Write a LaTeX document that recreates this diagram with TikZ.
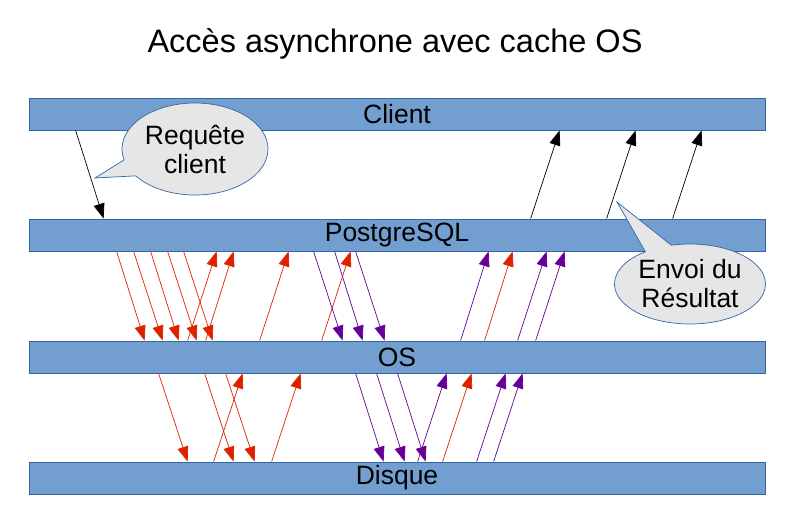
\documentclass[tikz,border=0pt]{standalone}
\usepackage{fontspec}
\setmainfont{Liberation Sans}
\usetikzlibrary{calc,arrows.meta,shapes.callouts}
\definecolor{barfill}{RGB}{114,159,207}
\definecolor{barline}{RGB}{52,101,164}
\definecolor{bubble}{RGB}{230,230,230}
\definecolor{redarr}{RGB}{221,34,0}
\definecolor{purparr}{RGB}{102,0,153}
\tikzset{
  bar/.style={draw=barline, line width=0.8pt, fill=barfill, minimum width=736pt, minimum height=32pt, inner sep=0pt, font=\fontsize{26.5}{30}\selectfont},
  bubblebox/.style={ellipse callout, draw=barline, line width=0.7pt, fill=bubble, inner sep=0pt, align=center, callout pointer arc=22, font=\fontsize{26.5}{29}\selectfont},
  conn/.style={line width=0.7pt, -{Triangle[length=15pt,width=11pt]}},
  blackarr/.style={conn, black},
  redarrow/.style={conn, redarr},
  purparrow/.style={conn, purparr}
}
\begin{document}
\begin{tikzpicture}[x=1pt,y=-1pt]
\useasboundingbox (0,0) rectangle (794,525);
\node[font=\fontsize{32.5}{36}\selectfont] (title) at (395,44) {Accès asynchrone avec cache OS};
\node[bar] (client) at (397,114) {Client};
\node[bar] (pg) at (397,235) {PostgreSQL};
\node[bar] (os) at (397,357) {OS};
\node[bar] (disk) at (397,478) {Disque};
% client -> pg
\draw[blackarr] ($(client.south west)+(76-29,0)$) -- ($(pg.north west)+(104-29,0)$);
\foreach \a/\b in {531/560,607/636,673/702}
  \draw[blackarr] ($(pg.north west)+(\a-29,0)$) -- ($(client.south west)+(\b-29,0)$);
% pg <-> os
\foreach \a/\b in {117/145,134/163,151/179,168/197,184/213}
  \draw[redarrow] ($(pg.south west)+(\a-29,0)$) -- ($(os.north west)+(\b-29,0)$);
\foreach \a/\b in {188/217,206/234,260/289,322/351,485/513}
  \draw[redarrow] ($(os.north west)+(\a-29,0)$) -- ($(pg.south west)+(\b-29,0)$);
\foreach \a/\b in {314/343,335/363,356/385}
  \draw[purparrow] ($(pg.south west)+(\a-29,0)$) -- ($(os.north west)+(\b-29,0)$);
\foreach \a/\b in {461/489,518/547,536/565}
  \draw[purparrow] ($(os.north west)+(\a-29,0)$) -- ($(pg.south west)+(\b-29,0)$);
% os <-> disk
\foreach \a/\b in {159/188,205/234,226/255}
  \draw[redarrow] ($(os.south west)+(\a-29,0)$) -- ($(disk.north west)+(\b-29,0)$);
\foreach \a/\b in {214/243,272/301,443/472}
  \draw[redarrow] ($(disk.north west)+(\a-29,0)$) -- ($(os.south west)+(\b-29,0)$);
\foreach \a/\b in {356/384,377/405,398/426}
  \draw[purparrow] ($(os.south west)+(\a-29,0)$) -- ($(disk.north west)+(\b-29,0)$);
\foreach \a/\b in {418/447,477/506,494/523}
  \draw[purparrow] ($(disk.north west)+(\a-29,0)$) -- ($(os.south west)+(\b-29,0)$);
% callouts
\coordinate (tipA) at (95,178);
\coordinate (tipB) at (617,202);
\node[bubblebox, minimum width=146pt, minimum height=92pt, callout absolute pointer={(tipA)}] (req) at (195,149) {Requête\\client};
\node[bubblebox, minimum width=151pt, minimum height=80pt, callout absolute pointer={(tipB)}] (res) at (690,284) {Envoi du\\Résultat};
\end{tikzpicture}
\end{document}
